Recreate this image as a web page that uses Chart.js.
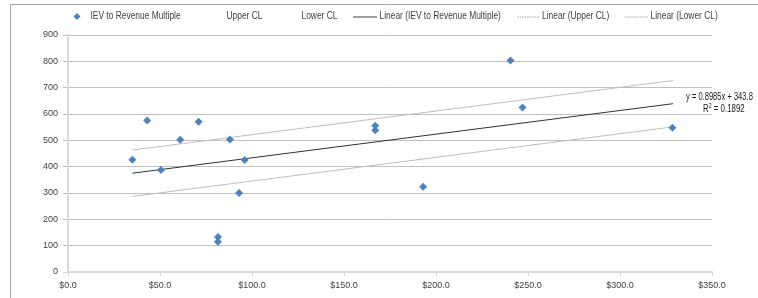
<!DOCTYPE html>
<html>
<head>
<meta charset="utf-8">
<script src="https://cdn.jsdelivr.net/npm/chart.js@4/dist/chart.umd.min.js"></script>
<style>
html,body{margin:0;padding:0;background:#fff;}
#wrap{width:758px;height:298px;position:relative;}
</style>
</head>
<body>
<div id="wrap"><canvas id="c" width="758" height="298"></canvas></div>
<script>
// Data
const revenueMultipleX = [35, 43, 50.5, 61, 71, 81.5, 81.5, 88, 93, 96, 167, 167, 193, 240.5, 247, 328.5];
const ievValues        = [426, 575, 387, 502, 571, 133, 115, 503, 300, 425, 555, 538, 324, 803, 625, 548];
const trendX     = [35, 328.8];
const trendY     = [375.2, 639.2];
const upperCLY   = [463, 727];
const lowerCLY   = [287, 551];
const seriesNames = ['IEV to Revenue Multiple', 'Upper CL', 'Lower CL', 'Linear (IEV to Revenue Multiple)', 'Linear (Upper CL)', 'Linear (Lower CL)'];
const equationText = 'y = 0.8985x + 343.8';
const r2Text = '0.1892';
const xTicks = [0, 50, 100, 150, 200, 250, 300, 350];
const yTicks = [0, 100, 200, 300, 400, 500, 600, 700, 800, 900];

const FONT = '"Liberation Sans", Arial, sans-serif';
const pts = (xs, ys) => xs.map((x, i) => ({x: x, y: ys[i]}));

function narrowText(ctx, txt, x, y, sx) {
  sx = sx || 0.8;
  ctx.save();
  ctx.translate(x, y);
  ctx.scale(sx, 1);
  ctx.fillText(txt, 0, 0);
  ctx.restore();
  return ctx.measureText(txt).width * sx;
}

const decor = {
  id: 'decor',
  afterDraw(chart) {
    const ctx = chart.ctx;
    ctx.save();
    // outer frame
    ctx.strokeStyle = '#a6a6a6';
    ctx.lineWidth = 1;
    ctx.beginPath();
    ctx.moveTo(10.5, 300);
    ctx.lineTo(10.5, 4.5);
    ctx.lineTo(760, 4.5);
    ctx.stroke();
    // legend
    ctx.font = '10.5px ' + FONT;
    ctx.textBaseline = 'middle';
    const ly = 16.5;
    ctx.fillStyle = '#4F81BD';
    ctx.beginPath();
    ctx.moveTo(77, ly - 3.5); ctx.lineTo(80.5, ly); ctx.lineTo(77, ly + 3.5); ctx.lineTo(73.5, ly); ctx.closePath();
    ctx.fill();
    ctx.fillStyle = '#404040';
    narrowText(ctx, seriesNames[0], 90.5, ly);
    narrowText(ctx, seriesNames[1], 226.5, ly);
    narrowText(ctx, seriesNames[2], 301.5, ly);
    ctx.strokeStyle = '#404040';
    ctx.lineWidth = 1;
    ctx.beginPath(); ctx.moveTo(353, ly + 0.5); ctx.lineTo(377, ly + 0.5); ctx.stroke();
    narrowText(ctx, seriesNames[3], 379.5, ly);
    ctx.strokeStyle = '#a0a0a0';
    ctx.setLineDash([1.5, 1]);
    ctx.beginPath(); ctx.moveTo(517, ly + 0.5); ctx.lineTo(540, ly + 0.5); ctx.stroke();
    ctx.beginPath(); ctx.moveTo(625, ly + 0.5); ctx.lineTo(648, ly + 0.5); ctx.stroke();
    ctx.setLineDash([]);
    narrowText(ctx, seriesNames[4], 542, ly);
    narrowText(ctx, seriesNames[5], 650.5, ly);
    // trend equation
    ctx.fillStyle = '#1a1a1a';
    ctx.font = '10.5px ' + FONT;
    narrowText(ctx, equationText, 686, 97, 0.72);
    let x = 703;
    x += narrowText(ctx, 'R', x, 109.5, 0.75);
    ctx.font = '7px ' + FONT;
    x += narrowText(ctx, '2', x, 106, 0.75);
    ctx.font = '10.5px ' + FONT;
    narrowText(ctx, ' = ' + r2Text, x, 109.5, 0.75);
    ctx.restore();
  }
};

new Chart(document.getElementById('c'), {
  type: 'scatter',
  data: {
    datasets: [
      {
        label: seriesNames[3],
        data: pts(trendX, trendY),
        showLine: true, borderColor: '#303030', borderWidth: 1, pointRadius: 0, fill: false, order: 2
      },
      {
        label: seriesNames[4],
        data: pts(trendX, upperCLY),
        showLine: true, borderColor: '#bdbdbd', borderWidth: 1, pointRadius: 0, fill: false, order: 3
      },
      {
        label: seriesNames[5],
        data: pts(trendX, lowerCLY),
        showLine: true, borderColor: '#bdbdbd', borderWidth: 1, pointRadius: 0, fill: false, order: 3
      },
      {
        label: seriesNames[0],
        data: pts(revenueMultipleX, ievValues),
        pointStyle: 'rectRot', pointRadius: 4, pointHoverRadius: 4,
        backgroundColor: '#4F81BD', borderColor: '#4F81BD', borderWidth: 0, order: 1
      }
    ]
  },
  options: {
    responsive: false,
    devicePixelRatio: 1,
    animation: false,
    layout: { padding: { top: 35, right: 46, left: 0, bottom: 0 } },
    plugins: { legend: { display: false }, tooltip: { enabled: false } },
    scales: {
      x: {
        type: 'linear', min: 0, max: 350,
        afterBuildTicks: s => { s.ticks = xTicks.map(v => ({value: v})); },
        afterFit: s => { s.height = 26; },
        ticks: {
          callback: v => '$' + Number(v).toFixed(1),
          font: { family: FONT, size: 9 }, color: '#404040', padding: 4, maxRotation: 0
        },
        grid: { drawOnChartArea: false, drawTicks: true, tickLength: 4, color: '#d0d0d0' },
        border: { color: '#d9d9d9', width: 2 }
      },
      y: {
        type: 'linear', min: 0, max: 900,
        afterBuildTicks: s => { s.ticks = yTicks.map(v => ({value: v})); },
        afterFit: s => { s.width = 68; },
        ticks: {
          font: { family: FONT, size: 9 }, color: '#404040', padding: 5
        },
        grid: {
          color: c => (c.tick && c.tick.value === 0) ? '#d9d9d9' : '#bfbfbf',
          lineWidth: 1, tickLength: 5, drawTicks: true
        },
        border: { color: '#d9d9d9', width: 2 }
      }
    }
  },
  plugins: [decor]
});
</script>
</body>
</html>
